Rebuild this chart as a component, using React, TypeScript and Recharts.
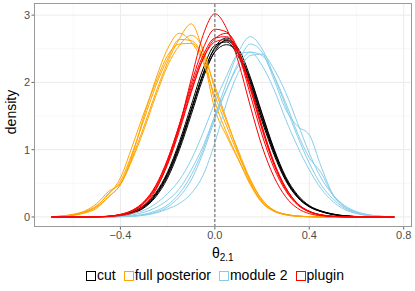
import { LineChart, Line, XAxis, YAxis, CartesianGrid, ReferenceLine } from "recharts";

// x grid shared by every density curve
const xs = [
  -0.693, -0.65, -0.6, -0.55, -0.5, -0.45, -0.4, -0.35, -0.3, -0.25, -0.2, -0.15, -0.1, -0.05, 0,
  0.05, 0.1, 0.15, 0.2, 0.25, 0.3, 0.35, 0.4, 0.45, 0.5, 0.55, 0.6, 0.65, 0.7, 0.76,
];

// cut
const cut1 = [0, 0, 0, 0, 0.002, 0.008, 0.024, 0.065, 0.155, 0.33, 0.63, 1.06, 1.59, 2.13, 2.5, 2.62, 2.44, 2.02, 1.48, 0.98, 0.57, 0.31, 0.16, 0.085, 0.04, 0.016, 0.006, 0.002, 0, 0];
const cut2 = [0, 0, 0, 0, 0.003, 0.01, 0.03, 0.075, 0.175, 0.36, 0.67, 1.12, 1.66, 2.2, 2.55, 2.6, 2.38, 1.95, 1.42, 0.93, 0.54, 0.29, 0.15, 0.08, 0.035, 0.014, 0.005, 0.002, 0, 0];
const cut3 = [0, 0, 0, 0, 0.001, 0.006, 0.02, 0.055, 0.135, 0.3, 0.58, 1.0, 1.52, 2.06, 2.46, 2.63, 2.5, 2.08, 1.54, 1.02, 0.6, 0.33, 0.17, 0.09, 0.045, 0.018, 0.007, 0.002, 0, 0];
const cut4 = [0, 0, 0, 0, 0.002, 0.008, 0.026, 0.07, 0.165, 0.345, 0.65, 1.08, 1.6, 2.1, 2.45, 2.56, 2.43, 2.05, 1.52, 1.0, 0.58, 0.31, 0.16, 0.085, 0.04, 0.016, 0.006, 0.002, 0, 0];
const cut5 = [0, 0, 0, 0, 0.002, 0.007, 0.022, 0.06, 0.145, 0.32, 0.61, 1.04, 1.57, 2.12, 2.52, 2.66, 2.47, 2.0, 1.46, 0.96, 0.56, 0.3, 0.155, 0.08, 0.038, 0.015, 0.005, 0.002, 0, 0];

// full posterior
const full1 = [0, 0.01, 0.03, 0.07, 0.15, 0.3, 0.48, 0.88, 1.35, 1.85, 2.3, 2.65, 2.87, 2.45, 1.72, 1.25, 0.86, 0.5, 0.22, 0.09, 0.035, 0.012, 0.004, 0.001, 0, 0, 0, 0, 0, 0];
const full2 = [0, 0.015, 0.04, 0.09, 0.2, 0.38, 0.5, 0.92, 1.5, 2.05, 2.5, 2.73, 2.6, 2.3, 1.8, 1.35, 0.92, 0.55, 0.25, 0.1, 0.04, 0.014, 0.005, 0.001, 0, 0, 0, 0, 0, 0];
const full3 = [0, 0.008, 0.025, 0.06, 0.13, 0.3, 0.48, 0.85, 1.3, 1.8, 2.25, 2.55, 2.7, 2.5, 1.9, 1.42, 0.98, 0.56, 0.26, 0.1, 0.04, 0.015, 0.005, 0.001, 0, 0, 0, 0, 0, 0];
const full4 = [0, 0.012, 0.035, 0.08, 0.17, 0.34, 0.58, 1.05, 1.55, 2.0, 2.4, 2.57, 2.58, 2.35, 1.6, 1.2, 0.85, 0.48, 0.21, 0.085, 0.032, 0.011, 0.004, 0.001, 0, 0, 0, 0, 0, 0];
const full5 = [0, 0.01, 0.03, 0.07, 0.16, 0.35, 0.53, 0.95, 1.45, 1.95, 2.35, 2.64, 2.62, 2.4, 1.95, 1.45, 0.95, 0.52, 0.23, 0.09, 0.035, 0.012, 0.004, 0.001, 0, 0, 0, 0, 0, 0];

// module 2
const mod1 = [0, 0, 0, 0, 0.001, 0.002, 0.005, 0.015, 0.04, 0.09, 0.18, 0.35, 0.62, 1.0, 1.5, 2.0, 2.45, 2.68, 2.5, 2.1, 1.65, 1.2, 0.8, 0.48, 0.27, 0.13, 0.06, 0.025, 0.01, 0];
const mod2 = [0, 0, 0, 0, 0.002, 0.005, 0.01, 0.03, 0.07, 0.14, 0.25, 0.42, 0.7, 1.05, 1.5, 1.9, 2.3, 2.57, 2.45, 2.05, 1.6, 1.35, 1.22, 0.75, 0.34, 0.15, 0.06, 0.025, 0.01, 0];
const mod3 = [0, 0, 0, 0.002, 0.005, 0.01, 0.02, 0.05, 0.1, 0.2, 0.35, 0.55, 0.85, 1.25, 1.7, 2.1, 2.42, 2.45, 2.25, 1.9, 1.45, 1.05, 0.7, 0.42, 0.23, 0.11, 0.05, 0.02, 0.008, 0];
const mod4 = [0, 0, 0, 0, 0.001, 0.002, 0.005, 0.012, 0.03, 0.07, 0.15, 0.3, 0.55, 0.95, 1.45, 1.9, 2.25, 2.45, 2.4, 2.1, 1.7, 1.25, 0.88, 0.66, 0.32, 0.15, 0.07, 0.03, 0.01, 0];
const mod5 = [0, 0, 0, 0, 0.001, 0.002, 0.003, 0.01, 0.025, 0.06, 0.12, 0.2, 0.35, 0.62, 1.1, 1.7, 2.15, 2.4, 2.42, 2.2, 1.85, 1.4, 0.95, 0.58, 0.33, 0.17, 0.08, 0.035, 0.012, 0];

// plugin
const plug1 = [0, 0, 0, 0, 0.001, 0.005, 0.02, 0.06, 0.17, 0.4, 0.8, 1.35, 2.05, 2.7, 3.02, 2.8, 2.3, 1.65, 1.05, 0.6, 0.3, 0.13, 0.05, 0.018, 0.006, 0.002, 0, 0, 0, 0];
const plug2 = [0, 0, 0, 0, 0.002, 0.01, 0.035, 0.095, 0.22, 0.46, 0.85, 1.38, 1.98, 2.5, 2.79, 2.75, 2.42, 1.82, 1.22, 0.73, 0.39, 0.18, 0.075, 0.028, 0.009, 0.003, 0.001, 0, 0, 0];
const plug3 = [0, 0, 0, 0, 0.002, 0.009, 0.03, 0.085, 0.2, 0.42, 0.78, 1.28, 1.85, 2.35, 2.65, 2.73, 2.48, 1.95, 1.35, 0.82, 0.44, 0.2, 0.085, 0.032, 0.011, 0.003, 0.001, 0, 0, 0];
const plug4 = [0, 0, 0, 0, 0.003, 0.012, 0.04, 0.1, 0.23, 0.47, 0.86, 1.37, 1.93, 2.4, 2.66, 2.68, 2.42, 1.9, 1.3, 0.78, 0.41, 0.19, 0.08, 0.03, 0.01, 0.003, 0.001, 0, 0, 0];
const plug5 = [0, 0, 0, 0, 0.002, 0.01, 0.035, 0.09, 0.21, 0.44, 0.82, 1.32, 1.88, 2.35, 2.6, 2.64, 2.43, 1.93, 1.33, 0.8, 0.43, 0.2, 0.085, 0.032, 0.011, 0.003, 0.001, 0, 0, 0];

const groupNames = ["cut", "full posterior", "module 2", "plugin"];
const groupSeries = [
  [cut1, cut2, cut3, cut4, cut5],
  [full1, full2, full3, full4, full5],
  [mod1, mod2, mod3, mod4, mod5],
  [plug1, plug2, plug3, plug4, plug5],
];

const xTicks = [-0.4, 0, 0.4, 0.8];
const xTickLabels = ["\u22120.4", "0.0", "0.4", "0.8"];
const yTicks = [0, 1, 2, 3];
const xMinor = [-0.6, -0.2, 0.2, 0.6];
const yMinor = [0.5, 1.5, 2.5];

const colors = ["#000000", "#FFA500", "#87CEEB", "#FF0000"];
const font = '"Liberation Sans", Arial, sans-serif';

const data = xs.map((x, i) => {
  const row: Record<string, number> = { x };
  groupSeries.forEach((lines, g) => {
    lines.forEach((s, k) => {
      row[`g${g}_${k}`] = s[i];
    });
  });
  return row;
});

export default function App() {
  return (
    <div style={{ position: "absolute", left: 0, top: 0, width: 415, height: 291, background: "#fff", fontFamily: font }}>
      <LineChart
        width={415}
        height={291}
        data={data}
        margin={{ top: 3, right: 3.5, bottom: 0, left: 0 }}
        style={{ fontFamily: font }}
      >
        <CartesianGrid stroke="#f3f3f3" strokeWidth={0.6} horizontalValues={yMinor} verticalValues={xMinor} />
        <CartesianGrid stroke="#ebebeb" strokeWidth={1} horizontalValues={yTicks} verticalValues={xTicks} />
        <XAxis
          dataKey="x"
          type="number"
          domain={[-0.766, 0.833]}
          allowDataOverflow
          ticks={xTicks}
          tickFormatter={(v) => xTickLabels[xTicks.indexOf(v)] ?? String(v)}
          height={64}
          tickSize={2.5}
          tickMargin={1.5}
          axisLine={false}
          tickLine={{ stroke: "#666" }}
          tick={{ fill: "#4d4d4d", fontSize: 11 }}
        />
        <YAxis
          type="number"
          domain={[-0.149, 3.18]}
          allowDataOverflow
          ticks={yTicks}
          width={34}
          tickSize={2.5}
          tickMargin={1.5}
          axisLine={false}
          tickLine={{ stroke: "#666" }}
          tick={{ fill: "#4d4d4d", fontSize: 11 }}
        />
        {groupSeries.map((lines, g) =>
          lines.map((_, k) => (
            <Line
              key={`g${g}_${k}`}
              dataKey={`g${g}_${k}`}
              type="monotone"
              stroke={colors[g]}
              strokeWidth={1}
              dot={false}
              activeDot={false}
              isAnimationActive={false}
            />
          ))
        )}
        <ReferenceLine x={0} stroke="#808080" strokeWidth={1.3} strokeDasharray="3 2" />
      </LineChart>

      {/* panel border */}
      <div
        style={{
          position: "absolute",
          left: 34,
          top: 3,
          width: 377.5,
          height: 224,
          border: "1px solid #9a9a9a",
          boxSizing: "border-box",
          pointerEvents: "none",
        }}
      />

      {/* y title */}
      <div
        style={{
          position: "absolute",
          left: 11,
          top: 112,
          transform: "translate(-50%, -50%) rotate(-90deg)",
          fontSize: 14,
          color: "#000",
          whiteSpace: "nowrap",
        }}
      >
        density
      </div>

      {/* x title */}
      <div
        style={{
          position: "absolute",
          left: 222.75,
          top: 245,
          transform: "translateX(-50%)",
          fontSize: 14,
          color: "#000",
          whiteSpace: "nowrap",
          lineHeight: "16px",
        }}
      >
        θ<sub style={{ fontSize: 10, verticalAlign: "-3px" }}>2.1</sub>
      </div>

      {/* legend */}
      <div
        style={{
          position: "absolute",
          left: 86,
          top: 268,
          display: "flex",
          alignItems: "center",
          fontSize: 14,
          lineHeight: "15px",
          whiteSpace: "nowrap",
          color: "#000",
        }}
      >
        {groupNames.map((name, g) => (
          <div key={name} style={{ display: "flex", alignItems: "center", marginRight: 8 }}>
            <div
              style={{
                width: 10,
                height: 10,
                border: `1.3px solid ${colors[g]}`,
                boxSizing: "border-box",
                background: "#fff",
                marginRight: 1,
              }}
            />
            <span>{name}</span>
          </div>
        ))}
      </div>
    </div>
  );
}
